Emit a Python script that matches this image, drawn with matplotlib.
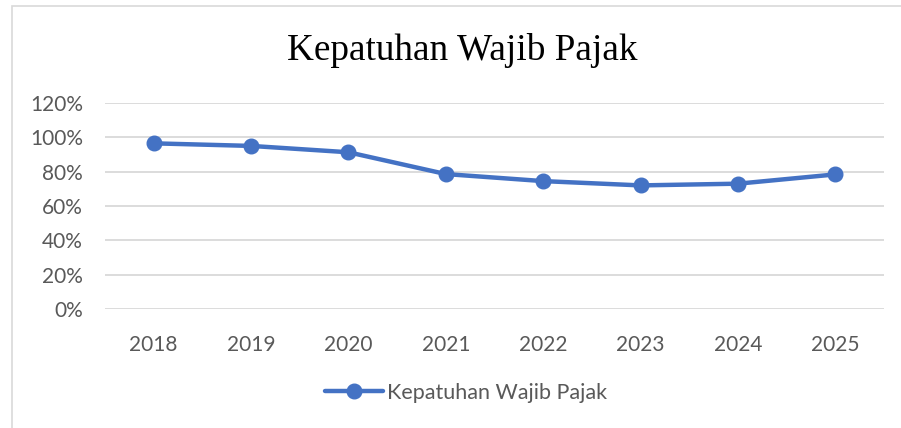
import matplotlib.pyplot as plt
from matplotlib.patches import Rectangle

# data
years = ['2018', '2019', '2020', '2021', '2022', '2023', '2024', '2025']
kepatuhan = [96.5, 95.0, 91.3, 78.6, 74.5, 72.0, 73.0, 78.4]
y_ticks = [0, 20, 40, 60, 80, 100, 120]

W, H = 901, 428
fig = plt.figure(figsize=(W / 100, H / 100), dpi=100)

# outer chart border (light grey, Excel style)
fig.patches.append(Rectangle((12 / W, -0.1), 1.1, 1 - 6 / H + 0.1, transform=fig.transFigure,
                             fill=False, edgecolor='#d9d9d9', linewidth=1.2))

ax = fig.add_axes([105 / W, 1 - 309 / H, (884 - 105) / W, (309 - 103) / H])
x = range(len(years))
ax.plot(x, kepatuhan, color='#4472C4', linewidth=3.2, marker='o', markersize=10.5,
        solid_capstyle='round', label='Kepatuhan Wajib Pajak', zorder=3)

ax.set_xlim(-0.5, len(years) - 0.5)
ax.set_ylim(0, 120)
ax.set_yticks(y_ticks)
ax.set_yticklabels([f'{v}%' for v in y_ticks])
ax.set_xticks(list(x))
ax.set_xticklabels(years)
ax.grid(axis='y', color='#d9d9d9', linewidth=1.3)
ax.set_axisbelow(True)
for s in ax.spines.values():
    s.set_visible(False)
ax.tick_params(axis='y', length=0, labelsize=15, labelcolor='#595959', pad=16)
ax.tick_params(axis='x', length=0, labelsize=15, labelcolor='#595959', pad=19)
for lab in ax.get_xticklabels() + ax.get_yticklabels():
    lab.set_fontfamily('Lato')

fig.text(462 / W, 1 - 50 / H, 'Kepatuhan Wajib Pajak', ha='center', va='center',
         fontsize=26.8, family='Liberation Serif', color='black')

fig.legend(loc='center', bbox_to_anchor=(466 / W, 1 - 393 / H), frameon=False,
           prop={'family': 'Lato', 'size': 15.5}, labelcolor='#595959',
           handlelength=2.7, handletextpad=0.15)

fig.savefig('out.png', dpi=100)
